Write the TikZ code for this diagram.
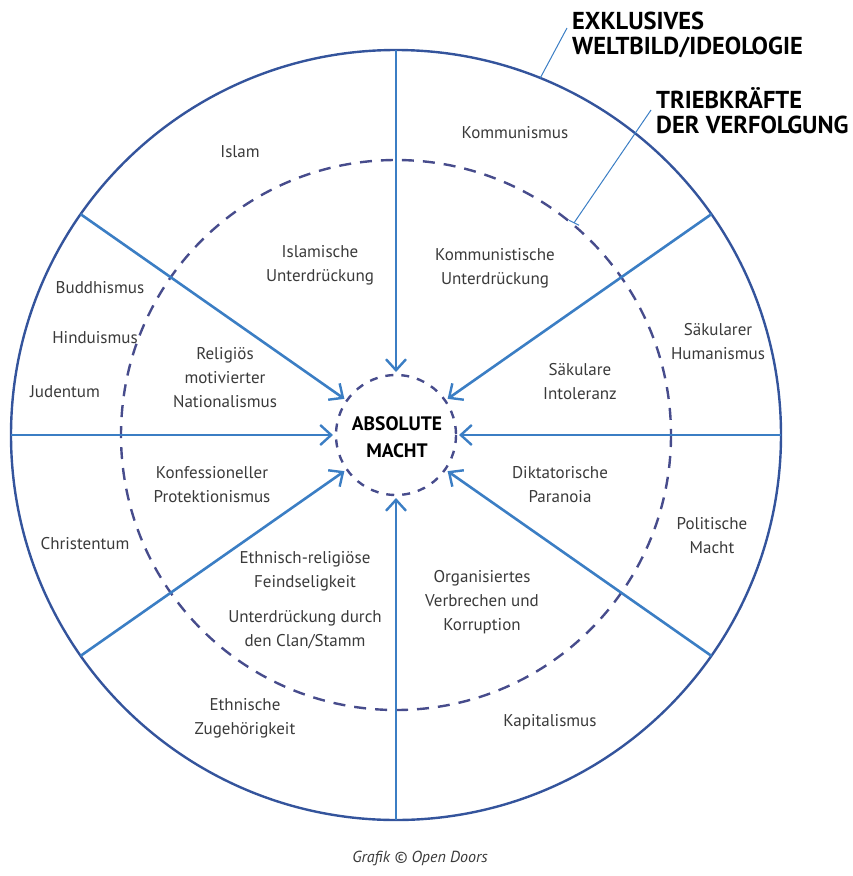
\documentclass[tikz,border=0pt]{standalone}
\usepackage{fontspec}
\setmainfont{PT Sans}
\usetikzlibrary{arrows.meta}
\definecolor{rim}{HTML}{34549C}
\definecolor{spoke}{HTML}{3B7EC4}
\definecolor{ring}{HTML}{474C8C}
\definecolor{txt}{HTML}{3A3A3A}
\tikzset{
  rimline/.style={draw=rim, line width=2.4pt},
  ringline/.style={draw=ring, line width=2.4pt, dash pattern=on 12pt off 9pt},
  smallring/.style={draw=ring, line width=2.4pt, dash pattern=on 8pt off 8pt},
  spokeline/.style={draw=spoke, line width=2.6pt},
  spokearrow/.style={spokeline, -{Straight Barb[length=11pt,width=20pt,line width=2.4pt]}},
  lbl/.style={text=txt, align=center, font=\fontsize{17}{24}\selectfont, inner sep=0pt},
  head/.style={text=black, align=left, font=\fontsize{24.5}{25}\selectfont\bfseries, inner sep=0pt, anchor=north west},
  leader/.style={draw=spoke, line width=1pt}
}
\begin{document}
\begin{tikzpicture}[x=1pt,y=-1pt]
\useasboundingbox (0,0) rectangle (853,876);
\coordinate (c) at (396,435);

% rings
\draw[rimline] (c) circle (385);
\draw[ringline] (c) circle (275);
\draw[smallring] (c) circle (60);

% spokes from the rim inward (y axis points down, so angles are mirrored)
\foreach \a/\n in {90/n, 35/ne, 0/e, -35/se, -90/s, 215/sw, 180/w, 145/nw}{
  \coordinate (o\n) at ([shift={(\a:385)}]c);
  \coordinate (i\n) at ([shift={(\a:63)}]c);
}
\foreach \n in {n,ne,e,se,s,sw,w,nw}{
  \draw[spokearrow] (o\n) -- (i\n);
}

% centre
\node[text=black, align=center, font=\fontsize{19.5}{27}\selectfont\bfseries, inner sep=0pt] (macht) at (397,437) {ABSOLUTE\\MACHT};

% outer ring labels
\node[lbl] (islam) at (240,152) {Islam};
\node[lbl] (komm) at (515,133) {Kommunismus};
\node[lbl] (budd) at (100,288) {Buddhismus};
\node[lbl] (hindu) at (95,338) {Hinduismus};
\node[lbl] (jud) at (65,392) {Judentum};
\node[lbl] (saekh) at (718,342) {Säkularer\\Humanismus};
\node[lbl] (christ) at (85,544) {Christentum};
\node[lbl] (polit) at (712,536) {Politische\\Macht};
\node[lbl] (ethz) at (245,718) {Ethnische\\Zugehörigkeit};
\node[lbl] (kapit) at (550,722) {Kapitalismus};

% inner ring labels
\node[lbl] (islu) at (320,265) {Islamische\\Unterdrückung};
\node[lbl] (kommu) at (495,268) {Kommunistische\\Unterdrückung};
\node[lbl] (relnat) at (225,378) {Religiös\\motivierter\\Nationalismus};
\node[lbl] (saeki) at (580,382) {Säkulare\\Intoleranz};
\node[lbl] (konf) at (212,485) {Konfessioneller\\Protektionismus};
\node[lbl] (dikt) at (560,485) {Diktatorische\\Paranoia};
\node[lbl] (ethr) at (305,571) {Ethnisch-religiöse\\Feindseligkeit};
\node[lbl] (clan) at (305,630) {Unterdrückung durch\\den Clan/Stamm};
\node[lbl] (organ) at (482,602) {Organisiertes\\Verbrechen und\\Korruption};

% headings with leader lines
\node[head] (welt) at (572,12) {EXKLUSIVES\\WELTBILD/IDEOLOGIE};
\node[head] (trieb) at (656,87) {TRIEBKRÄFTE\\DER VERFOLGUNG};
\coordinate (wa) at ([shift={(-68:385)}]c);
\coordinate (wb) at (567,28);
\draw[leader] (wa) -- (wb);
\coordinate (ta) at ([shift={(-50:277)}]c);
\coordinate (tb) at (651,110);
\draw[leader] (ta) -- (tb);
\draw[leader] ([shift={(-5,-2.5)}]ta) -- ([shift={(5,2.5)}]ta);

% credit
\node[text=txt, font=\fontsize{16}{18}\selectfont\itshape, inner sep=0pt] (credit) at (420,858) {Grafik © Open Doors};
\end{tikzpicture}
\end{document}
